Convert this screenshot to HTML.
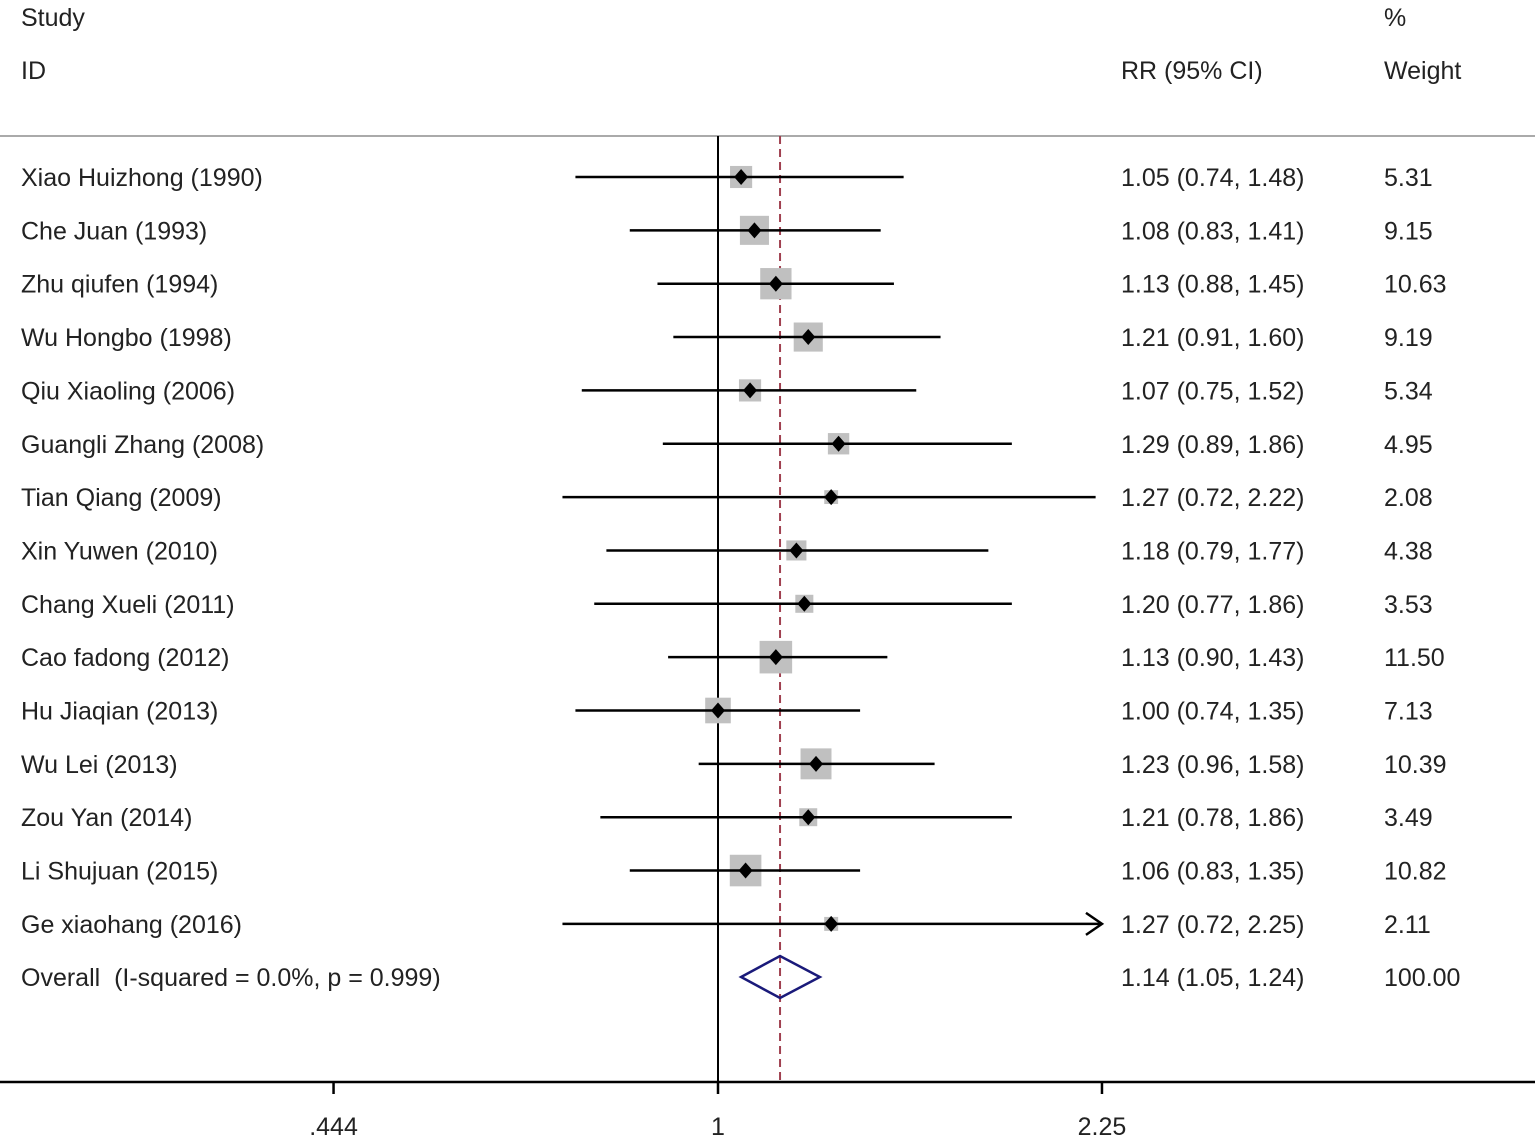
<!DOCTYPE html>
<html><head><meta charset="utf-8"><style>
html,body{margin:0;padding:0;background:#fff}
svg text{font-family:"Liberation Sans",Arial,sans-serif;font-size:25px;fill:#222}
</style></head><body>
<svg id="chart" width="1535" height="1140" xmlns="http://www.w3.org/2000/svg">
<text x="21" y="26">Study</text>
<text x="21" y="79">ID</text>
<text x="1121" y="79">RR (95% CI)</text>
<text x="1384" y="26">%</text>
<text x="1384" y="79">Weight</text>
<line x1="0" y1="136" x2="1535" y2="136" stroke="#aaa" stroke-width="2"/>
<g id="marks"></g>
</svg>
<script>
const studies=["Xiao Huizhong (1990)","Che Juan (1993)","Zhu qiufen (1994)","Wu Hongbo (1998)","Qiu Xiaoling (2006)","Guangli Zhang (2008)","Tian Qiang (2009)","Xin Yuwen (2010)","Chang Xueli (2011)","Cao fadong (2012)","Hu Jiaqian (2013)","Wu Lei (2013)","Zou Yan (2014)","Li Shujuan (2015)","Ge xiaohang (2016)"];
const rr=[1.05,1.08,1.13,1.21,1.07,1.29,1.27,1.18,1.20,1.13,1.00,1.23,1.21,1.06,1.27];
const lo=[0.74,0.83,0.88,0.91,0.75,0.89,0.72,0.79,0.77,0.90,0.74,0.96,0.78,0.83,0.72];
const hi=[1.48,1.41,1.45,1.60,1.52,1.86,2.22,1.77,1.86,1.43,1.35,1.58,1.86,1.35,2.25];
const weights=[5.31,9.15,10.63,9.19,5.34,4.95,2.08,4.38,3.53,11.50,7.13,10.39,3.49,10.82,2.11];
const overall=[1.14,1.05,1.24];
const tickValues=[0.444,1,2.25];
const tickLabels=[".444","1","2.25"];
const NS="http://www.w3.org/2000/svg";
const g=document.getElementById('marks');
function xs(v){return 718+473.5*Math.log(v);}
function ys(i){return 177+i*53.35;}
function el(t,a,txt){const e=document.createElementNS(NS,t);for(const k in a)e.setAttribute(k,a[k]);if(txt!==undefined)e.textContent=txt;g.appendChild(e);return e;}
const ax=el('line',{x1:0,y1:1082,x2:1535,y2:1082,stroke:'#000','stroke-width':2.5});


const nl=el('line',{x1:xs(1),y1:136,x2:xs(1),y2:1082,stroke:'#000','stroke-width':2});


const dl=el('line',{x1:xs(overall[0]),y1:136,x2:xs(overall[0]),y2:1082,stroke:'#a04050','stroke-width':2,'stroke-dasharray':'8,5'});


tickValues.forEach((v,i)=>{
 const t=el('line',{x1:xs(v),y1:1082,x2:xs(v),y2:1094,stroke:'#000','stroke-width':2.5});
 
 
 const l=el('text',{x:xs(v),y:1135,'text-anchor':'middle'},tickLabels[i]);
 
 
});
studies.forEach((s,i)=>{
 const y=ys(i);
 const n=el('text',{x:21,y:y+9},s);
 
 
 const sz=9.6*Math.sqrt(weights[i]);
 const b=el('rect',{x:xs(rr[i])-sz/2,y:y-sz/2,width:sz,height:sz,fill:'#c0c0c0'});
 
 
 const x2=Math.min(xs(hi[i]),1102);
 const ci=el('line',{x1:xs(lo[i]),y1:y,x2:x2,y2:y,stroke:'#000','stroke-width':2.5});
 
 
 if(hi[i]>=2.25){
  const a=el('path',{d:`M${x2-16} ${y-11} L${x2} ${y} L${x2-16} ${y+11}`,fill:'none',stroke:'#000','stroke-width':2.5});
  
  
 }
 const px=xs(rr[i]);
 const d=el('path',{d:`M${px-7} ${y} L${px} ${y-8} L${px+7} ${y} L${px} ${y+8}Z`,fill:'#000'});
 
 
 const r=el('text',{x:1121,y:y+9},`${rr[i].toFixed(2)} (${lo[i].toFixed(2)}, ${hi[i].toFixed(2)})`);
 
 
 const w=el('text',{x:1384,y:y+9},weights[i].toFixed(2));
 
 
});
const oy=977;
const ol=el('text',{x:21,y:oy+9},'Overall\u00a0\u00a0(I-squared = 0.0%, p = 0.999)');


const dia=el('path',{d:`M${xs(overall[1])} ${oy} L${xs(overall[0])} ${oy-21} L${xs(overall[2])} ${oy} L${xs(overall[0])} ${oy+21}Z`,fill:'none',stroke:'#1a1a7a','stroke-width':2.5});


const orr=el('text',{x:1121,y:oy+9},`${overall[0].toFixed(2)} (${overall[1].toFixed(2)}, ${overall[2].toFixed(2)})`);


const ow=el('text',{x:1384,y:oy+9},'100.00');


</script>
</body></html>
